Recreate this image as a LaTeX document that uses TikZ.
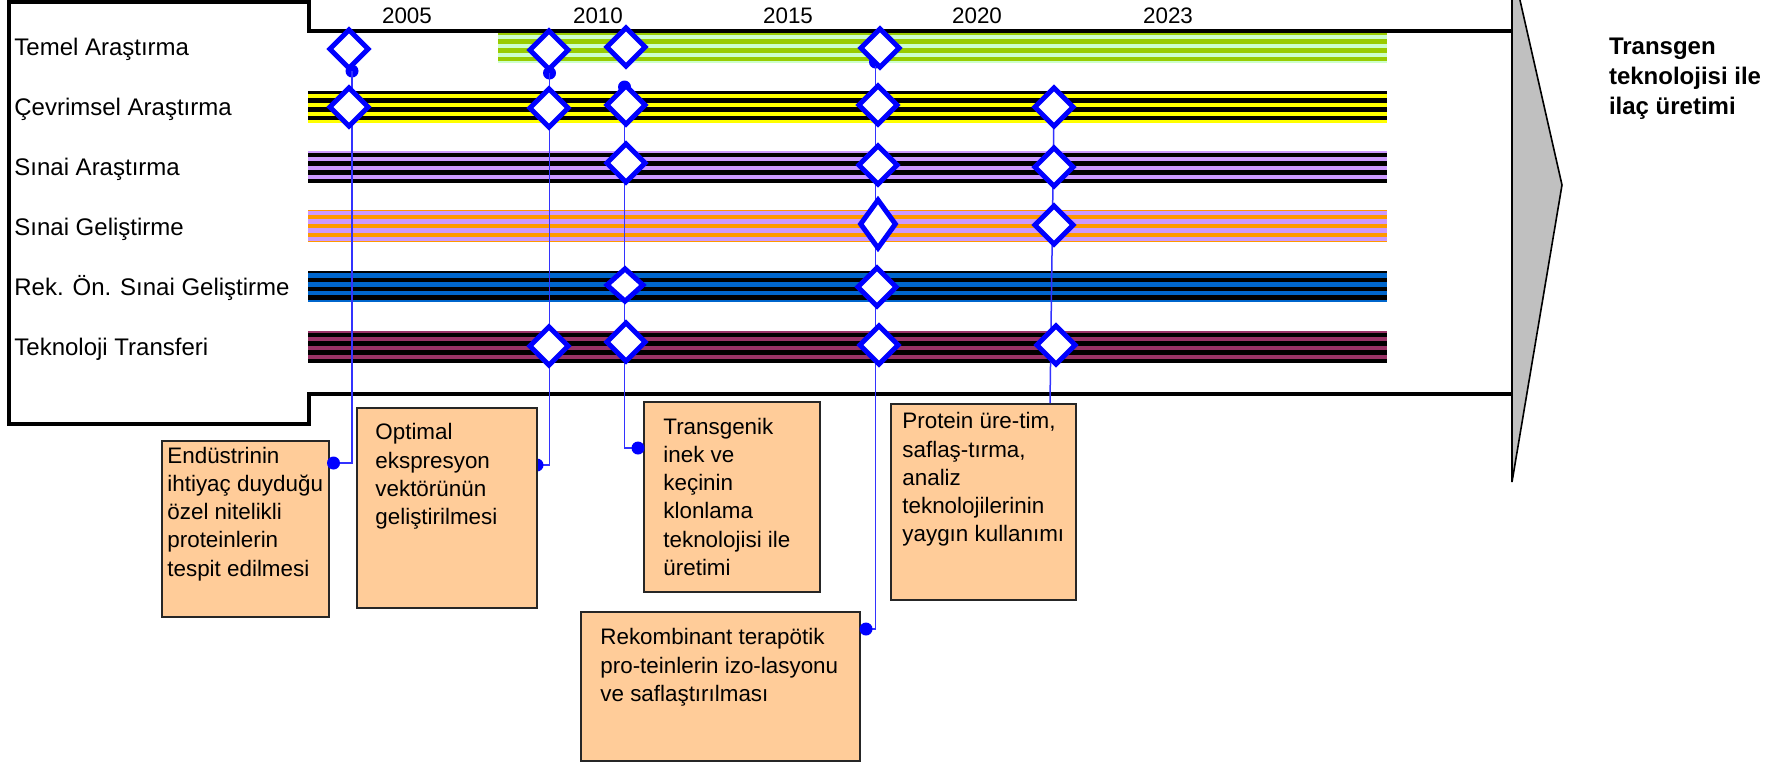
\documentclass[tikz,border=0pt]{standalone}
\usepackage{fontspec}
\setmainfont{Liberation Sans}
\usetikzlibrary{shapes.geometric}

\definecolor{linkblue}{RGB}{51,51,255}
\definecolor{markblue}{RGB}{0,0,255}
\definecolor{grassgreen}{HTML}{99CC00}
\definecolor{palegreen}{HTML}{CCFFCC}
\definecolor{lemon}{HTML}{FFFF00}
\definecolor{lilac}{HTML}{CC99FF}
\definecolor{amber}{HTML}{FF9900}
\definecolor{ocean}{HTML}{0066CC}
\definecolor{plum}{HTML}{993366}
\definecolor{peach}{HTML}{FFCC99}
\definecolor{arrowgray}{HTML}{C0C0C0}

% striped activity band: left, top, right, base colour, stripe colour, stripe offset
\newcommand{\stripeband}[6]{%
  \begin{scope}
    \clip (#1,#2) rectangle (#3,#2+31);
    \fill[#4] (#1,#2) rectangle (#3,#2+31);
    \foreach \k in {0,...,4}
      \fill[#5] (#1,#2+#6+\k*8.8-8.8) rectangle (#3,#2+#6+\k*8.8-4.4);
  \end{scope}}

\begin{document}
\begin{tikzpicture}[x=0.5pt,y=-0.5pt,
  rowlabel/.style={anchor=base west, inner sep=0pt, font=\fontsize{12}{14}\selectfont},
  yearlabel/.style={anchor=base, inner sep=0pt, font=\fontsize{11.2}{13}\selectfont},
  gem/.style={diamond, draw=markblue, fill=white, line width=2.5pt, inner sep=0pt,
              minimum width=20.2pt, minimum height=20.2pt},
  blob/.style={circle, fill=markblue, inner sep=0pt, minimum size=6.5pt},
  link/.style={draw=linkblue, line width=0.75pt},
  card/.style={draw=black!85, fill=peach, line width=0.9pt, anchor=north west, inner sep=0pt},
  cardtext/.style={anchor=north west, align=left, inner sep=0pt, font=\fontsize{11.2}{14.1}\selectfont},
  frameline/.style={line width=2pt, line join=miter},
]
\path[use as bounding box] (0,0) rectangle (1774,762);
\clip (0,0) rectangle (1774,762);

% activity bands
\stripeband{498}{31.5}{1387}{grassgreen}{palegreen}{3.5}
\stripeband{308}{91.5}{1387}{lemon}{black}{6.8}
\stripeband{308}{151}{1387}{lilac}{black}{1.5}
\stripeband{308}{210.7}{1387}{lilac}{amber}{4.3}
\stripeband{308}{271}{1387}{ocean}{black}{6.8}
\stripeband{308}{331}{1387}{plum}{black}{1.5}

% frame around the timeline
\draw[frameline] (1512,30.7) -- (308.7,30.7) -- (308.7,1.7) -- (9.2,1.7) -- (9.2,423.7)
  -- (308.7,423.7) -- (308.7,393.5) -- (1512,393.5);

% grey direction arrow
\draw[fill=arrowgray, line width=0.8pt, line join=miter] (1512,-35) -- (1562,185) -- (1512,482) -- cycle;

% row labels
\node[rowlabel] (r1) at (14,55) {Temel Araştırma};
\node[rowlabel] (r2) at (14,115) {Çevrimsel Araştırma};
\node[rowlabel] (r3) at (14,175) {Sınai Araştırma};
\node[rowlabel] (r4) at (14,235) {Sınai Geliştirme};
\node[rowlabel] (r5) at (14,295) {Rek. Ön. Sınai Geliştirme};
\node[rowlabel] (r6) at (14,355) {Teknoloji Transferi};

% years
\node[yearlabel] (y1) at (407,23.3) {2005};
\node[yearlabel] (y2) at (598,23.3) {2010};
\node[yearlabel] (y3) at (788,23.3) {2015};
\node[yearlabel] (y4) at (977,23.3) {2020};
\node[yearlabel] (y5) at (1168,23.3) {2023};

% outcome title
\node[anchor=north west, align=left, inner sep=0pt, font=\fontsize{12}{15}\selectfont\bfseries]
  (goal) at (1608.6,38) {Transgen\\teknolojisi ile\\ilaç üretimi};

% connector end points
\coordinate (p1) at (333.5,463);
\coordinate (p2) at (537,465);
\coordinate (p3) at (638,448);
\coordinate (p4) at (866,629);
\node[blob] (t1) at (352,71) {};
\node[blob] (t2) at (549.5,73) {};
\node[blob] (t3) at (624.5,87) {};
\node[blob] (t4) at (875.5,62) {};

% connectors from the milestone columns down to their boxes
\draw[link] (t1.center) |- (p1);
\draw[link] (t2.center) |- (p2);
\draw[link] (t3.center) |- (p3);
\draw[link] (t4.center) |- (p4);
\node[blob] (e2) at (p2) {};

% description boxes
\node[card, minimum width=83.5pt, minimum height=88pt] (b1) at (161,440) {};
\node[card, minimum width=90pt, minimum height=100pt] (b2) at (356,407) {};
\node[card, minimum width=88pt, minimum height=95pt] (b3) at (643,401) {};
\node[card, minimum width=139.5pt, minimum height=74.5pt] (b4) at (580,611) {};
\node[card, minimum width=92.5pt, minimum height=98pt] (b5) at (890,403) {};

\node[cardtext] (b1t) at ([shift={(6,6.7)}]b1.north west)
  {Endüstrinin\\ihtiyaç duyduğu\\özel nitelikli\\proteinlerin\\tespit edilmesi};
\node[cardtext] (b2t) at ([shift={(19,16.3)}]b2.north west)
  {Optimal\\ekspresyon\\vektörünün\\geliştirilmesi};
\node[cardtext] (b3t) at ([shift={(20,16.7)}]b3.north west)
  {Transgenik\\inek ve\\keçinin\\klonlama\\teknolojisi ile\\üretimi};
\node[cardtext] (b4t) at ([shift={(20,17.3)}]b4.north west)
  {Rekombinant terapötik\\pro-teinlerin izo-lasyonu\\ve saflaştırılması};
\node[cardtext] (b5t) at ([shift={(12,9.3)}]b5.north west)
  {Protein üre-tim,\\saflaş-tırma,\\analiz\\teknolojilerinin\\yaygın kullanımı};

\node[blob] (e1) at (p1) {};
\node[blob] (e3) at (p3) {};
\node[blob] (e4) at (p4) {};

% last column runs straight into the top of its box
\coordinate (c5start) at (1054,107);
\coordinate (c5x) at (1050,0);
\coordinate (c5end) at (b5.north -| c5x);
\draw[link] (c5start) -- (c5end);

% milestone diamonds
\node[gem] (m11) at (349,49) {};
\node[gem] (m12) at (349,107) {};
\node[gem] (m21) at (549,50) {};
\node[gem] (m22) at (549,108) {};
\node[gem] (m26) at (549,346) {};
\node[gem] (m31) at (626,47) {};
\node[gem] (m32) at (626,105) {};
\node[gem] (m33) at (626,163) {};
\node[gem, minimum width=19pt, minimum height=17.2pt] (m35) at (625,285) {};
\node[gem] (m36) at (626,342) {};
\node[gem] (m41) at (880,48) {};
\node[gem] (m42) at (878,105) {};
\node[gem] (m43) at (878,165) {};
\node[gem, minimum width=18.4pt, minimum height=25pt] (m44) at (878,224) {};
\node[gem] (m45) at (877,287) {};
\node[gem] (m46) at (879,345) {};
\node[gem] (m52) at (c5start) {};
\node[gem] (m53) at (1054,167) {};
\node[gem] (m54) at (1054,225) {};
\node[gem] (m56) at (1056,345) {};
\end{tikzpicture}
\end{document}
